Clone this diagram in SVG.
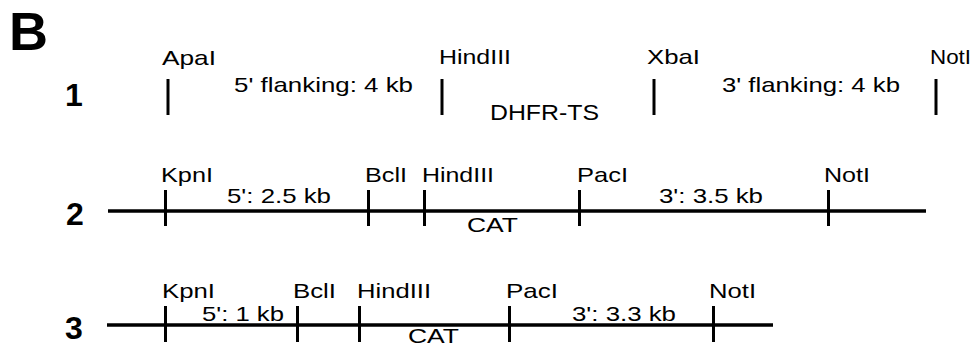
<svg xmlns="http://www.w3.org/2000/svg" width="979" height="350" viewBox="0 0 979 350">
  <style>
    text { font-family: "Liberation Sans", Arial, sans-serif; fill: #000; }
    .lbl { font-size: 21px; }
    .num { font-size: 32px; font-weight: bold; text-anchor: middle; }
    .panel { font-size: 54px; font-weight: bold; }
    .tick { stroke: #000; stroke-width: 3; }
    .bb { stroke: #000; stroke-width: 3.5; }
  </style>
  <rect width="979" height="350" fill="#fff"/>

  <text class="panel" x="9" y="50">B</text>

  <!-- construct 1: wild-type locus -->
  <g id="construct1">
    <text class="num" x="74" y="106">1</text>
    <line class="tick" x1="168" y1="79" x2="168" y2="115"/>
    <line class="tick" x1="442" y1="79" x2="442" y2="115"/>
    <line class="tick" x1="654" y1="79" x2="654" y2="115"/>
    <line class="tick" x1="936" y1="79" x2="936" y2="115"/>
    <text class="lbl" x="162" y="65" textLength="54" lengthAdjust="spacingAndGlyphs">ApaI</text>
    <text class="lbl" x="439" y="64" textLength="72" lengthAdjust="spacingAndGlyphs">HindIII</text>
    <text class="lbl" x="647" y="64" textLength="53" lengthAdjust="spacingAndGlyphs">XbaI</text>
    <text class="lbl" x="930" y="64" textLength="41" lengthAdjust="spacingAndGlyphs">NotI</text>
    <text class="lbl" x="234" y="92" textLength="179" lengthAdjust="spacingAndGlyphs">5' flanking: 4 kb</text>
    <text class="lbl" x="722" y="92" textLength="178" lengthAdjust="spacingAndGlyphs">3' flanking: 4 kb</text>
    <text class="lbl" x="490" y="120" style="font-size:22px" textLength="109" lengthAdjust="spacingAndGlyphs">DHFR-TS</text>
  </g>

  <!-- construct 2 -->
  <g id="construct2">
    <text class="num" x="75" y="225">2</text>
    <text class="lbl" x="161" y="182" textLength="52" lengthAdjust="spacingAndGlyphs">KpnI</text>
    <text class="lbl" x="365" y="182" textLength="42" lengthAdjust="spacingAndGlyphs">BclI</text>
    <text class="lbl" x="422" y="182" textLength="72" lengthAdjust="spacingAndGlyphs">HindIII</text>
    <text class="lbl" x="577" y="182" textLength="51" lengthAdjust="spacingAndGlyphs">PacI</text>
    <text class="lbl" x="824" y="182" textLength="46" lengthAdjust="spacingAndGlyphs">NotI</text>
    <text class="lbl" x="227" y="203" textLength="104" lengthAdjust="spacingAndGlyphs">5': 2.5 kb</text>
    <text class="lbl" x="659" y="203" textLength="104" lengthAdjust="spacingAndGlyphs">3': 3.5 kb</text>
    <text class="lbl" x="467" y="232" textLength="51" lengthAdjust="spacingAndGlyphs">CAT</text>
  </g>

  <!-- construct 3 -->
  <g id="construct3">
    <text class="num" x="74" y="339">3</text>
    <text class="lbl" x="162" y="298" textLength="53" lengthAdjust="spacingAndGlyphs">KpnI</text>
    <text class="lbl" x="293" y="298" textLength="43" lengthAdjust="spacingAndGlyphs">BclI</text>
    <text class="lbl" x="357" y="298" textLength="74" lengthAdjust="spacingAndGlyphs">HindIII</text>
    <text class="lbl" x="506" y="298" textLength="52" lengthAdjust="spacingAndGlyphs">PacI</text>
    <text class="lbl" x="709" y="298" textLength="47" lengthAdjust="spacingAndGlyphs">NotI</text>
    <text class="lbl" x="202" y="321" textLength="82" lengthAdjust="spacingAndGlyphs">5': 1 kb</text>
    <text class="lbl" x="572" y="321" textLength="104" lengthAdjust="spacingAndGlyphs">3': 3.3 kb</text>
    <text class="lbl" x="408" y="343" textLength="51" lengthAdjust="spacingAndGlyphs">CAT</text>
  </g>

  <!-- backbone lines and restriction-site ticks -->
  <g id="connectors">
    <line class="bb" x1="108" y1="211" x2="926" y2="211"/>
    <line class="tick" x1="165.5" y1="190" x2="165.5" y2="226"/>
    <line class="tick" x1="368.5" y1="190" x2="368.5" y2="226"/>
    <line class="tick" x1="424.5" y1="190" x2="424.5" y2="226"/>
    <line class="tick" x1="579.5" y1="190" x2="579.5" y2="226"/>
    <line class="tick" x1="828.5" y1="190" x2="828.5" y2="226"/>

    <line class="bb" x1="107" y1="325" x2="773" y2="325"/>
    <line class="tick" x1="165.5" y1="306" x2="165.5" y2="342"/>
    <line class="tick" x1="297.5" y1="306" x2="297.5" y2="342"/>
    <line class="tick" x1="359.5" y1="306" x2="359.5" y2="342"/>
    <line class="tick" x1="509.5" y1="306" x2="509.5" y2="342"/>
    <line class="tick" x1="713.5" y1="306" x2="713.5" y2="342"/>
  </g>
</svg>
